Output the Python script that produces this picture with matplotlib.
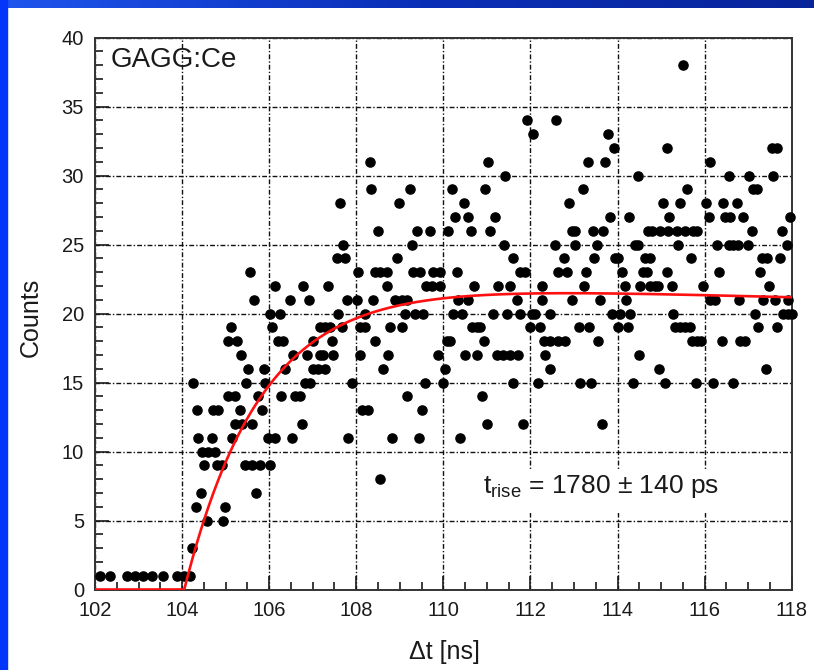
import matplotlib as mpl
mpl.use('Agg')
import matplotlib.pyplot as plt
from matplotlib.ticker import MultipleLocator
from matplotlib.patches import Rectangle
import numpy as np

plt.rcParams['font.family'] = ['Liberation Sans', 'DejaVu Sans']
plt.rcParams['mathtext.fontset'] = 'custom'
plt.rcParams['mathtext.rm'] = 'Liberation Sans'
plt.rcParams['mathtext.it'] = 'Liberation Sans'

# histogram points: time [ns], counts
# 102-104 ns, background
t_bkg = [102.11, 102.34, 102.73, 102.92, 103.11, 103.30, 103.57, 103.88, 104.04, 104.18]
n_bkg = [1, 1, 1, 1, 1, 1, 1, 1, 1, 1]

# 104-106.8 ns, rising edge
t_edge = [105.56, 106.13, 105.66, 106.48, 106.02, 106.25, 106.06, 105.12, 105.06, 105.25,
          106.21, 106.32, 105.35, 106.55, 105.51, 105.87, 106.36, 104.26, 105.46, 105.90,
          105.06, 105.22, 105.75, 106.27, 106.59, 106.71, 104.34, 104.72, 104.83, 105.33,
          105.84, 105.22, 105.37, 105.60, 106.75, 104.37, 104.68, 105.15, 105.98, 106.13,
          106.52, 104.45, 104.60, 104.76, 104.51, 104.80, 104.91, 105.45, 105.60, 105.79,
          106.02, 105.69, 104.43, 104.31, 104.99, 104.57, 104.95, 104.22]
n_edge = [23, 22, 21, 21, 20, 20, 19, 19, 18, 18,
          18, 18, 17, 17, 16, 16, 16, 15, 15, 15,
          14, 14, 14, 14, 14, 14, 13, 13, 13, 13,
          13, 12, 12, 12, 12, 11, 11, 11, 11, 11,
          11, 10, 10, 10, 9, 9, 9, 9, 9, 9,
          9, 7, 7, 6, 6, 5, 5, 3]

# 106.8-109.6 ns
t_mid = [108.32, 108.34, 109.23, 107.63, 108.99, 108.51, 109.39, 107.70, 109.27, 107.55,
         107.74, 108.93, 108.05, 108.43, 108.55, 108.70, 109.31, 109.46, 106.78, 107.36,
         108.71, 106.92, 107.78, 108.01, 108.38, 108.89, 109.04, 109.16, 107.59, 108.20,
         109.12, 109.35, 109.54, 107.17, 107.28, 107.40, 107.67, 108.09, 108.20, 108.78,
         109.04, 107.01, 107.44, 108.43, 106.86, 107.17, 107.24, 107.47, 108.09, 108.74,
         107.01, 107.13, 107.28, 108.62, 106.82, 106.94, 107.90, 109.16, 108.13, 108.28,
         109.50, 107.82, 108.81, 109.43, 108.55]
n_mid = [31, 29, 29, 28, 28, 26, 26, 25, 25, 24,
         24, 24, 23, 23, 23, 23, 23, 23, 22, 22,
         22, 21, 21, 21, 21, 21, 21, 21, 20, 20,
         20, 20, 20, 19, 19, 19, 19, 19, 19, 19,
         19, 18, 18, 18, 17, 17, 17, 17, 17, 17,
         16, 16, 16, 16, 15, 15, 15, 14, 13, 13,
         13, 11, 11, 11, 8]

# 109.6-112.5 ns
t_p1 = [111.92, 112.07, 111.03, 111.42, 110.19, 110.96, 110.48, 110.27, 110.56, 111.19,
        109.69, 110.10, 110.64, 111.07, 111.39, 111.61, 109.77, 109.92, 110.32, 111.76,
        111.88, 109.60, 109.74, 109.92, 110.71, 111.26, 111.53, 112.26, 110.34, 110.57,
        111.69, 112.26, 110.23, 110.42, 111.15, 111.46, 111.76, 112.03, 112.11, 110.65,
        110.77, 110.84, 111.99, 112.22, 110.08, 110.15, 110.94, 112.30, 112.45, 109.87,
        110.50, 110.77, 111.23, 111.38, 111.53, 111.72, 112.34, 110.04, 112.45, 109.58,
        110.00, 111.61, 112.18, 110.88, 111.00, 111.84, 110.38]
n_p1 = [34, 33, 31, 30, 29, 29, 28, 27, 27, 27,
        26, 26, 26, 26, 25, 24, 23, 23, 23, 23,
        23, 22, 22, 22, 22, 22, 22, 22, 21, 21,
        21, 21, 20, 20, 20, 20, 20, 20, 20, 19,
        19, 19, 19, 19, 18, 18, 18, 18, 18, 17,
        17, 17, 17, 17, 17, 17, 17, 16, 16, 15,
        15, 15, 15, 14, 12, 12, 11]

# 112.5-115.3 ns
t_p2 = [112.59, 113.77, 113.92, 115.14, 113.33, 113.71, 114.48, 113.20, 112.89, 115.04,
        113.83, 114.27, 115.19, 112.95, 113.02, 113.43, 113.67, 114.71, 114.79, 114.98,
        115.17, 112.57, 113.02, 113.52, 114.40, 114.48, 112.76, 113.47, 113.94, 114.02,
        114.63, 114.75, 112.64, 112.83, 113.28, 114.10, 114.59, 114.67, 115.13, 113.24,
        114.17, 114.52, 114.75, 114.86, 114.94, 115.25, 112.95, 113.60, 114.20, 112.45,
        113.87, 114.06, 114.29, 115.28, 113.12, 113.35, 114.02, 114.25, 115.32, 112.64,
        112.79, 113.56, 114.50, 114.96, 113.14, 113.39, 114.36, 115.09, 113.64]
n_p2 = [34, 33, 32, 32, 31, 31, 30, 29, 28, 28,
        27, 27, 27, 26, 26, 26, 26, 26, 26, 26,
        26, 25, 25, 25, 25, 25, 24, 24, 24, 24,
        24, 24, 23, 23, 23, 23, 23, 23, 23, 22,
        22, 22, 22, 22, 22, 22, 21, 21, 21, 20,
        20, 20, 20, 20, 19, 19, 19, 19, 19, 18,
        18, 18, 17, 16, 15, 15, 15, 15, 12]

# 115.3-118 ns
t_p3 = [115.51, 117.54, 117.66, 116.12, 116.57, 117.03, 117.56, 117.12, 117.21, 115.60,
        115.44, 116.03, 116.43, 116.74, 116.09, 116.47, 116.58, 116.89, 117.96, 115.36,
        115.55, 115.74, 115.82, 117.08, 117.77, 115.40, 116.28, 116.55, 116.66, 116.77,
        117.00, 117.89, 115.68, 117.31, 117.44, 117.73, 116.32, 117.27, 115.96, 117.49,
        116.12, 116.24, 116.80, 117.35, 117.62, 117.92, 117.16, 117.81, 117.92, 118.00,
        115.44, 115.55, 115.67, 117.23, 117.67, 115.70, 115.82, 115.91, 116.39, 116.81,
        116.93, 117.40, 115.80, 116.19, 116.65]
n_p3 = [38, 32, 32, 31, 30, 30, 30, 29, 29, 29,
        28, 28, 28, 28, 27, 27, 27, 27, 27, 26,
        26, 26, 26, 26, 26, 25, 25, 25, 25, 25,
        25, 25, 24, 24, 24, 24, 23, 23, 22, 22,
        21, 21, 21, 21, 21, 21, 20, 20, 20, 20,
        19, 19, 19, 19, 19, 18, 18, 18, 18, 18,
        18, 16, 15, 15, 15]

t_ns = t_bkg + t_edge + t_mid + t_p1 + t_p2 + t_p3
counts = n_bkg + n_edge + n_mid + n_p1 + n_p2 + n_p3

# fit: A * (1 - exp(-(t-t0)/tau_r)) * exp(-(t-t0)/tau_d)
fit_A = 22.4
fit_t0 = 104.05
fit_tau_r = 1.78
fit_tau_d = 250.0

fig = plt.figure(figsize=(8.14, 6.70), dpi=100)

# slide background strips
fig.patches.append(Rectangle((0, 0), 7/814, 1, transform=fig.transFigure,
                             color='#0336fb', zorder=0))
band = fig.add_axes([0, 1 - 8/670, 1, 8/670])
grad = np.linspace(0, 1, 256).reshape(1, -1)
band.imshow(grad, aspect='auto', extent=(0, 1, 0, 1),
            cmap=mpl.colors.LinearSegmentedColormap.from_list('bb', ['#1f55ee', '#0a2fb8', '#08249a']))
band.axis('off')

ax = fig.add_axes([95/814, 1 - 589.5/670, 696.7/814, 552/670])

tt = np.linspace(102, 118, 1000)
dt = tt - fit_t0
f = np.where(dt > 0, fit_A * (1 - np.exp(-dt/fit_tau_r)) * np.exp(-dt/fit_tau_d), 0)

ax.plot(t_ns, counts, 'o', color='black', markersize=6.6, zorder=3, clip_on=False)
ax.plot(tt, f, color='#ff1010', linewidth=1.9, zorder=4)

ax.set_xlim(102, 118)
ax.set_ylim(0, 40)
ax.xaxis.set_major_locator(MultipleLocator(2))
ax.xaxis.set_minor_locator(MultipleLocator(0.5))
ax.yaxis.set_major_locator(MultipleLocator(5))
ax.yaxis.set_minor_locator(MultipleLocator(1))
ax.tick_params(which='both', direction='in', top=False, right=False,
               labelsize=14.5, pad=8, colors='#1a1a1a')
ax.tick_params(which='major', length=10, width=1.2)
ax.tick_params(which='minor', length=6, width=1.2)
ax.grid(which='major', color='#111111', linestyle=(0, (3.5, 1.5, 1, 1.5)), linewidth=1.0)
ax.set_axisbelow(True)
for s in ax.spines.values():
    s.set_linewidth(1.4)
    s.set_color('#333333')

# white pave behind the fit result
ax.add_patch(Rectangle((110.6, 5.55), 7.3, 3.1, facecolor='white', edgecolor='none', zorder=1))

fig.text(444/814, 1 - 652/670, 'Δt [ns]', fontsize=18, ha='center', va='center', color='#1a1a1a')
fig.text(31/814, 1 - 317/670, 'Counts', fontsize=18, ha='center', va='center',
         rotation=90, color='#1a1a1a')
fig.text(111/814, 1 - 66.7/670, 'GAGG:Ce', fontsize=20, ha='left', va='baseline', color='#1a1a1a')
fig.text(483/814, 1 - 493.3/670,
         r'$\mathrm{t}_{\mathrm{rise}}$ = 1780 $\pm$ 140 ps', fontsize=19,
         ha='left', va='baseline', color='#1a1a1a')

fig.savefig('out.png', dpi=100)
